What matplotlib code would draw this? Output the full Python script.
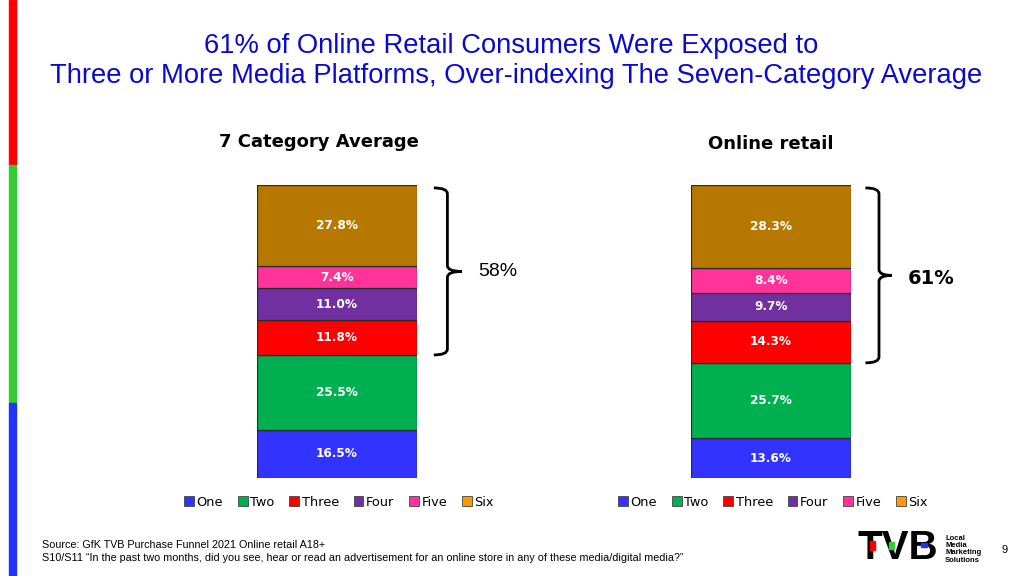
import numpy as np
import matplotlib
matplotlib.use("Agg")
import matplotlib.pyplot as plt
from matplotlib.patches import Patch, Rectangle, PathPatch
from matplotlib.path import Path
from matplotlib.transforms import blended_transform_factory

# data (bottom -> top)
segments = ["One", "Two", "Three", "Four", "Five", "Six"]
avg_values = [16.5, 25.5, 11.8, 11.0, 7.4, 27.8]
retail_values = [13.6, 25.7, 14.3, 9.7, 8.4, 28.3]
panel_titles = ["7 Category Average", "Online retail"]
brace_labels = ["58%", "61%"]
title_lines = ["61% of Online Retail Consumers Were Exposed to",
               "Three or More Media Platforms, Over-indexing The Seven-Category Average"]

bar_colors = ["#3333FF", "#00B050", "#FF0000", "#7030A0", "#FF3399", "#B77800"]
legend_colors = ["#3333FF", "#00B050", "#FF0000", "#7030A0", "#FF3399", "#FF9900"]

W, H = 1024, 576
fig = plt.figure(figsize=(W / 100, H / 100), dpi=100)


def fx(x):
    return x / W


def fy(y):
    return 1 - y / H


# colored stripe on the left edge
for y0, y1, c in [(0, 165, "#FF0000"), (165, 403, "#33CC33"), (403, 576, "#2233FF")]:
    fig.patches.append(Rectangle((fx(9), fy(y1)), fx(7), (y1 - y0) / H,
                                 transform=fig.transFigure, color=c, zorder=0))

# title, sized so the long line is as wide as in the slide (~928 px)
t1 = fig.text(fx(511), fy(46), title_lines[0], ha="center", va="center",
              fontsize=20, color="#0A0ACF", family="Liberation Sans")
t2 = fig.text(fx(516), fy(76), title_lines[1], ha="center", va="center",
              fontsize=20, color="#0A0ACF", family="Liberation Sans")
renderer = fig.canvas.get_renderer()
w2 = t2.get_window_extent(renderer).width
size = 20 * 928 / w2
t1.set_fontsize(size)
t2.set_fontsize(size)


def draw_brace(ax, y0, y1, x_hook, x_vert, x_tip, r=2.0):
    trans = blended_transform_factory(ax.transAxes, ax.transData)
    ym = (y0 + y1) / 2
    verts = [(x_hook, y1), (x_vert, y1), (x_vert, y1 - r),
             (x_vert, ym + r), (x_vert, ym), (x_tip, ym),
             (x_vert, ym), (x_vert, ym - r),
             (x_vert, y0 + r), (x_vert, y0), (x_hook, y0)]
    codes = [Path.MOVETO, Path.CURVE3, Path.CURVE3,
             Path.LINETO, Path.CURVE3, Path.CURVE3,
             Path.CURVE3, Path.CURVE3,
             Path.LINETO, Path.CURVE3, Path.CURVE3]
    ax.add_patch(PathPatch(Path(verts, codes), transform=trans, fill=False,
                           lw=2, color="black", clip_on=False, capstyle="butt"))
    return ym


panels = [
    (257, avg_values, 0, False, (1.105, 1.19, 1.28), 478),
    (691, retail_values, 1, True, (1.09, 1.175, 1.255), 908),
]

for left, values, i, bold, (xh, xv, xt), lab_x in panels:
    ax = fig.add_axes([fx(left), 98 / H, 160 / W, 293 / H])
    bottom = 0
    for val, col in zip(values, bar_colors):
        ax.bar(0, val, width=1, bottom=bottom, color=col, edgecolor="#2a2a2a", lw=0.9)
        ax.text(0, bottom + val / 2, f"{val:.1f}%", ha="center", va="center",
                color="white", fontsize=8.7, fontweight="bold")
        bottom += val
    ax.set_xlim(-0.5, 0.5)
    ax.set_ylim(0, 100)
    ax.axis("off")

    base = values[0] + values[1]
    ym = draw_brace(ax, base, 99, xh, xv, xt)
    trans = blended_transform_factory(fig.transFigure, ax.transData)
    if bold:
        ax.text(fx(lab_x), ym - 1, brace_labels[i], transform=trans, ha="left",
                va="center", fontsize=14, fontweight="bold")
    else:
        ax.text(fx(lab_x), ym, brace_labels[i], transform=trans, ha="left",
                va="center", fontsize=14, family="Liberation Sans")

    cx = left + 80
    fig.text(fx(cx - 18 if i == 0 else cx), fy(142 if i == 0 else 144), panel_titles[i],
             ha="center", va="center", fontsize=13, fontweight="bold")

    handles = [Patch(facecolor=c, edgecolor="#444444", lw=0.6, label=s)
               for s, c in zip(segments, legend_colors)]
    fig.legend(handles=handles, loc="center", bbox_to_anchor=(fx(cx + 2), fy(502)),
               ncol=6, frameon=False, fontsize=9.3, handlelength=0.75,
               handleheight=0.75, handletextpad=0.2, columnspacing=1.15)

# footer
fig.text(fx(42), fy(545), "Source: GfK TVB Purchase Funnel 2021 Online retail A18+",
         ha="left", va="center", fontsize=7.75, family="Liberation Sans")
fig.text(fx(42), fy(558),
         "S10/S11 \u201cIn the past two months, did you see, hear or read an advertisement for an online store in any of these media/digital media?\u201d",
         ha="left", va="center", fontsize=7.75, family="Liberation Sans")
fig.text(fx(1005), fy(550), "9", ha="center", va="center", fontsize=8,
         family="Liberation Sans")

# TVB logo
fig.text(fx(898), fy(548), "TVB", ha="center", va="center", fontsize=29,
         fontweight="bold", family="Liberation Sans")
for x0, y0, w, h, c in [(870, 541, 5, 9, "#FF0000"), (889, 542, 5, 7, "#33CC33"),
                        (921, 543, 6, 4, "#2233FF")]:
    fig.patches.append(Rectangle((fx(x0), fy(y0 + h)), w / W, h / H,
                                 transform=fig.transFigure, color=c, zorder=5))
for k, word in enumerate(["Local", "Media", "Marketing", "Solutions"]):
    fig.text(fx(945), fy(538 + 7.5 * k), word, ha="left", va="center",
             fontsize=5.5, fontweight="bold", family="Liberation Sans")

fig.savefig("out.png", dpi=100)
